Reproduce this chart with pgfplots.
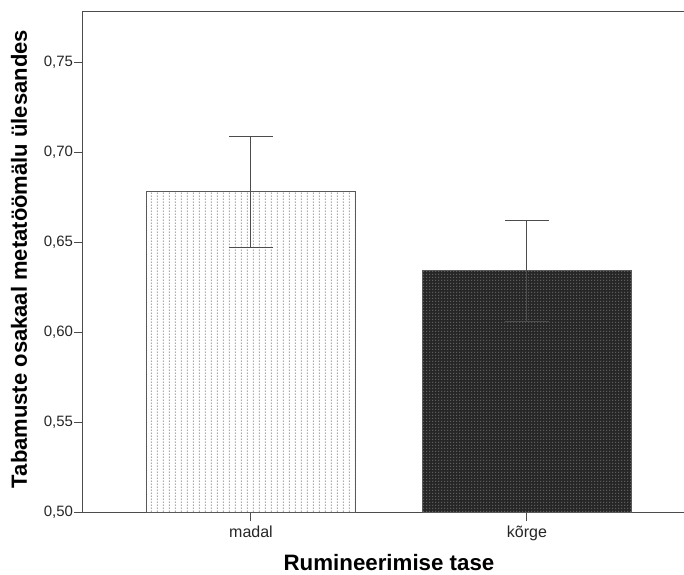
\documentclass[border=0pt]{standalone}
\usepackage{pgfplots}
\pgfplotsset{compat=1.18}
\usepackage{fontspec}
\setmainfont{Liberation Sans}
\usetikzlibrary{patterns.meta}
\tikzdeclarepattern{
  name=lightdots,
  type=uncolored,
  bottom left={(0,0)}, top right={(5.5bp,3bp)},
  tile size={(5.5bp,3bp)},
  code={\pgfpathrectangle{\pgfpoint{2bp}{0.5bp}}{\pgfpoint{1bp}{1.3bp}}\pgfusepath{fill}}
}
\tikzdeclarepattern{
  name=darkdots,
  type=uncolored,
  bottom left={(0,0)}, top right={(3bp,3bp)},
  tile size={(3bp,3bp)},
  code={\pgfpathrectangle{\pgfpoint{0.5bp}{0.5bp}}{\pgfpoint{1bp}{1bp}}\pgfusepath{fill}}
}
\begin{document}
\begin{tikzpicture}
\begin{axis}[
  name=ax,
  scale only axis,
  width=602bp, height=500bp,
  xmin=-0.6087, xmax=1.5725,
  ymin=0.5, ymax=0.7778,
  ytick={0.5,0.55,0.6,0.65,0.7,0.75},
  xtick={0,1}, xticklabels={madal,kõrge},
  tick align=outside, xtick pos=bottom, ytick pos=left,
  major tick length=8.5bp,
  axis line style={draw=black!70, line width=1bp},
  tick style={draw=black!70, line width=1bp},
  tick label style={text=black!85},
  yticklabel style={font=\fontsize{15bp}{17bp}\selectfont, xshift=2bp},
  xticklabel style={font=\fontsize{16bp}{18bp}\selectfont, yshift=-2bp},
  /pgf/number format/.cd, fixed, fixed zerofill, precision=2, use comma, assume math mode=true,
  /pgfplots/.cd,
  xlabel={Rumineerimise tase},
  ylabel={Tabamuste osakaal metatöömälu ülesandes},
  every axis x label/.style={at={(axis description cs:0.5,0)}, anchor=base, inner sep=0pt, yshift=-58bp, xshift=5bp,
    font=\bfseries\fontsize{22.3bp}{24bp}\selectfont},
  every axis y label/.style={at={(axis description cs:0,0.5)}, rotate=90, anchor=base, inner sep=0pt, yshift=56bp, xshift=3bp,
    font=\bfseries\fontsize{22bp}{24bp}\selectfont},
  error bars/error bar style={draw=black!70, line width=1bp},
  error bars/error mark options={rotate=90, mark size=22bp, line width=1bp, draw=black!70},
]
\addplot[ybar, bar width=0.754, bar shift=0pt, draw=black!65, line width=1bp,
  fill=white, postaction={pattern=lightdots, pattern color=black!50},
  error bars/.cd, y dir=both, y explicit]
  coordinates {(0,0.678) += (0,0.0305) -= (0,0.0312)};
\addplot[ybar, bar width=0.754, bar shift=0pt, draw=black!65, line width=1bp,
  fill=black!85, postaction={pattern=darkdots, pattern color=black!35},
  error bars/.cd, y dir=both, y explicit]
  coordinates {(1,0.6344) += (0,0.0278) -= (0,0.0283)};
\end{axis}
\pgfresetboundingbox
\path[use as bounding box] ([shift={(-83bp,-63bp)}]ax.south west) rectangle ([shift={(-1bp,12bp)}]ax.north east);
\end{tikzpicture}
\end{document}
